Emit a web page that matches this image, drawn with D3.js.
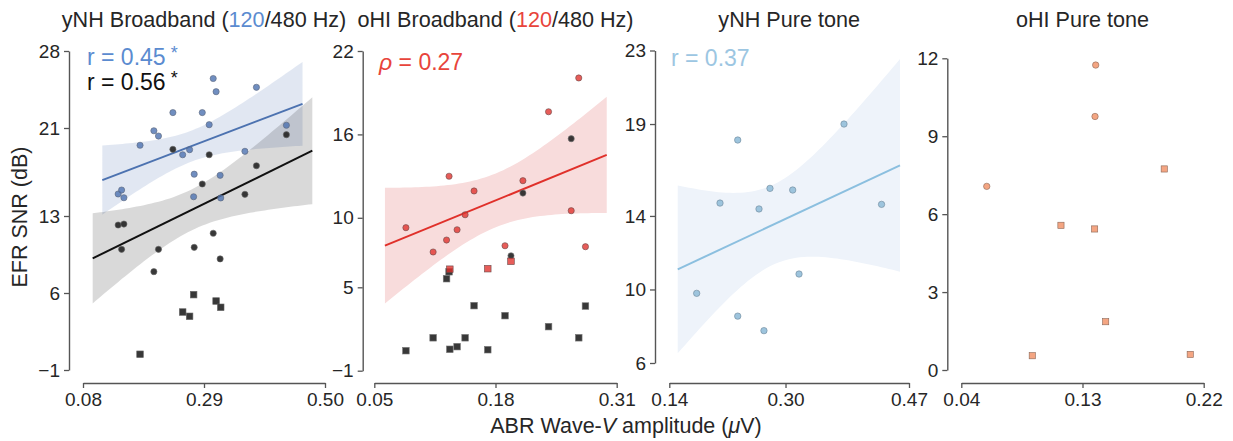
<!DOCTYPE html>
<html><head><meta charset="utf-8">
<script src="https://cdn.jsdelivr.net/npm/d3@7"></script>
<style>
body{margin:0;background:#fff}
svg{display:block}
text{font-family:"Liberation Sans",Arial,sans-serif;fill:#262626}
</style>
</head><body>
<svg id="c" width="1233" height="441"></svg>
<script>
// ================= DATA =================
// Panel 1: yNH broadband — ABR wave-V amplitude (µV) per subject, EFR SNR (dB) at 120 Hz and 480 Hz
const ynhBbAmp      = [0.141,0.147,0.151,0.179,0.203,0.211,0.236,0.253,0.265,0.272,0.273,0.287,0.299,0.306,0.311,0.318,0.319,0.361,0.381,0.433];
const ynhBb120      = [15.0,15.36,14.66,19.43,20.75,20.27,22.4,18.57,19.03,14.75,16.8,22.4,21.3,25.5,24.3,16.7,14.64,18.88,24.7,21.25];
const ynhBb480      = [12.18,9.97,12.27,0.43,7.94,9.97,19.06,4.27,3.88,5.85,10.15,15.91,18.57,11.43,5.27,9.1,4.7,14.97,17.57,20.39];
const ynhBb480Floor = [0,0,0,1,0,0,0,1,1,1,0,0,0,0,1,0,1,0,0,0];   // 1 = square marker (excluded from fit)

// Panel 2: oHI broadband
const ohiBbAmp      = [0.0839,0.1131,0.1275,0.1302,0.1310,0.1388,0.1474,0.1570,0.1717,0.1902,0.1966,0.2094,0.2369,0.2612,0.2693,0.2765];
const ohiBb120      = [9.29,7.54,8.4,12.99,6.3,9.14,10.22,11.93,6.34,7.99,6.87,12.67,17.63,10.51,20.06,7.92];
const ohiBb120Floor = [0,0,0,0,1,0,0,0,1,0,1,0,0,0,0,0];
const ohiBb480      = [0.44,1.37,5.62,6.12,0.54,0.73,1.37,3.68,0.51,2.96,7.27,11.78,2.17,15.69,1.37,3.65];
const ohiBb480Floor = [1,1,1,1,1,1,1,1,1,1,0,0,1,0,1,1];

// Panel 3: yNH pure tone
const ynhPtAmp = [0.1777,0.2098,0.2342,0.2342,0.2635,0.2703,0.2786,0.3099,0.3186,0.3805,0.4322];
const ynhPtSnr = [9.79,14.7,18.13,8.55,14.38,7.76,15.5,15.41,10.84,19.0,14.63];

// Panel 4: oHI pure tone
const ohiPtAmp   = [0.0589,0.0927,0.114,0.1393,0.1398,0.139,0.1472,0.1907,0.21];
const ohiPtSnr   = [7.07,0.55,5.57,9.76,11.74,5.43,1.86,7.74,0.6];
const ohiPtFloor = [0,1,1,0,0,1,1,1,1];

// Regression line x-extents (µV)
const ynhBbFit120Range = [0.1135,0.461];
const ynhBbFit480Range = [0.0968,0.478];
const ohiBbFitRange    = [0.0614,0.2993];
const ynhPtFitRange    = [0.1516,0.4576];

// Axis domains and tick labels
const p1XDomain=[0.08,0.50], p1YDomain=[-1,28], p1XTicks=[0.08,0.29,0.50], p1YTicks=[-1,6,13,21,28];
const p2XDomain=[0.05,0.31], p2YDomain=[-1,22], p2XTicks=[0.05,0.18,0.31], p2YTicks=[-1,5,10,16,22];
const p3XDomain=[0.14,0.47], p3YDomain=[6,23],  p3XTicks=[0.14,0.30,0.47], p3YTicks=[6,10,14,19,23];
const p4XDomain=[0.04,0.22], p4YDomain=[0,12],  p4XTicks=[0.04,0.13,0.22], p4YTicks=[0,3,6,9,12];

// Texts
const titles = ["yNH Broadband (","oHI Broadband (","yNH Pure tone","oHI Pure tone"];
const xLabel = "ABR Wave-";
const yLabel = "EFR SNR (dB)";

// ================= LAYOUT / STYLE =================
const svg = d3.select("#c");
const layout = [
  {x0:83,    x1:325,    yTop:51,   yBot:370,   spineX:69,    xd:p1XDomain, yd:p1YDomain, xt:p1XTicks, yt:p1YTicks},
  {x0:374.3, x1:616.7,  yTop:51,   yBot:370.7, spineX:362.7, xd:p2XDomain, yd:p2YDomain, xt:p2XTicks, yt:p2YTicks},
  {x0:669.3, x1:909,    yTop:50.5, yBot:363,   spineX:655,   xd:p3XDomain, yd:p3YDomain, xt:p3XTicks, yt:p3YTicks},
  {x0:961.3, x1:1203.7, yTop:58.3, yBot:370,   spineX:947.3, xd:p4XDomain, yd:p4YDomain, xt:p4XTicks, yt:p4YTicks},
];
const xAxisY = 383;
const spineColor = "#555";

const C = {
  blue:"#4c72b0", blueTxt:"#5b8bd0",
  black:"#111",
  red:"#e0302a", redTxt:"#e8443b", redBand:"#f8dcdc",
  lblue:"#8bbfdf", lblueTxt:"#9cc6e2", lbluePt:"#9dc4dd", lblueBand:"#eef3fa",
  orange:"#f4a582"
};

function fitLine(xs, ys){
  const n = xs.length, mx = d3.mean(xs), my = d3.mean(ys);
  let sxx=0, sxy=0;
  xs.forEach((x,i)=>{sxx+=(x-mx)*(x-mx); sxy+=(x-mx)*(ys[i]-my);});
  const b = sxy/sxx, a = my - b*mx;
  let ss=0; xs.forEach((x,i)=>{const r=ys[i]-(a+b*x); ss+=r*r;});
  const s = Math.sqrt(ss/(n-2));
  return {n,mx,sxx,a,b,s};
}
function bandPts(f, range){
  const N=60, out=[];
  for(let i=0;i<=N;i++){
    const x = range[0]+(range[1]-range[0])*i/N;
    const yh = f.a+f.b*x;
    const se = f.s*Math.sqrt(1/f.n + (x-f.mx)*(x-f.mx)/f.sxx);
    out.push({x, lo:yh-1.96*se, hi:yh+1.96*se, y:yh});
  }
  return out;
}

const panels = layout.map(L=>{
  const x = d3.scaleLinear().domain(L.xd).range([L.x0,L.x1]);
  const y = d3.scaleLinear().domain(L.yd).range([L.yBot,L.yTop]);
  const g = svg.append("g");
  const ya = g.append("g").attr("transform",`translate(${L.spineX},0)`)
    .call(d3.axisLeft(y).tickValues(L.yt).tickFormat(d3.format("d")).tickSize(5).tickSizeOuter(0).tickPadding(4));
  const xa = g.append("g").attr("transform",`translate(0,${xAxisY})`)
    .call(d3.axisBottom(x).tickValues(L.xt).tickFormat(d3.format(".2f")).tickSize(5).tickSizeOuter(0).tickPadding(5));
  [ya,xa].forEach(a=>{
    a.select(".domain").attr("stroke",spineColor).attr("stroke-width",1.4);
    a.selectAll(".tick line").attr("stroke",spineColor).attr("stroke-width",1.3);
    a.selectAll(".tick text").attr("font-size",19).attr("fill","#262626")
      .style("font-family",'"Liberation Sans",Arial,sans-serif');
  });
  return {x,y,g,L};
});

function drawFit(P, xs, ys, range, lineColor, bandColor, bandOpacity){
  const f = fitLine(xs, ys);
  const pts = bandPts(f, range);
  P.g.append("path").datum(pts)
    .attr("d", d3.area().x(d=>P.x(d.x)).y0(d=>P.y(d.lo)).y1(d=>P.y(d.hi)))
    .attr("fill", bandColor).attr("fill-opacity", bandOpacity).attr("stroke","none");
  return {f, pts, lineColor, P};
}
function drawLine(o){
  o.P.g.append("path").datum([o.pts[0], o.pts[o.pts.length-1]])
    .attr("d", d3.line().x(d=>o.P.x(d.x)).y(d=>o.P.y(d.y)))
    .attr("stroke", o.lineColor).attr("stroke-width",2).attr("fill","none");
}
function drawPoints(P, xs, ys, floor, fill, opacity, stroke, r, side){
  const data = xs.map((v,i)=>({x:v,y:ys[i],sq:floor?floor[i]:0}));
  P.g.selectAll(null).data(data.filter(d=>!d.sq)).enter().append("circle")
    .attr("cx",d=>P.x(d.x)).attr("cy",d=>P.y(d.y)).attr("r",r)
    .attr("fill",fill).attr("fill-opacity",opacity).attr("stroke",stroke).attr("stroke-width",0.6);
  P.g.selectAll(null).data(data.filter(d=>d.sq)).enter().append("rect")
    .attr("x",d=>P.x(d.x)-side/2).attr("y",d=>P.y(d.y)-side/2).attr("width",side).attr("height",side)
    .attr("fill",fill).attr("fill-opacity",opacity).attr("stroke",stroke).attr("stroke-width",0.6);
}
const sel = (arr, flags, keep)=>arr.filter((_,i)=>flags[i]===keep);

// ----- Panel 1 -----
{
  const P = panels[0];
  const fb = drawFit(P, ynhBbAmp, ynhBb120, ynhBbFit120Range, C.blue, C.blue, 0.17);
  const fk = drawFit(P, sel(ynhBbAmp,ynhBb480Floor,0), sel(ynhBb480,ynhBb480Floor,0), ynhBbFit480Range, C.black, "#000", 0.15);
  drawLine(fb); drawLine(fk);
  drawPoints(P, ynhBbAmp, ynhBb480, ynhBb480Floor, "#222", 0.9, "#666", 3.1, 6.6);
  drawPoints(P, ynhBbAmp, ynhBb120, null, C.blue, 0.8, "#5a6478", 3.1, 6.6);
}
// ----- Panel 2 -----
{
  const P = panels[1];
  const fr = drawFit(P, sel(ohiBbAmp,ohiBb120Floor,0), sel(ohiBb120,ohiBb120Floor,0), ohiBbFitRange, C.red, C.redBand, 1);
  drawLine(fr);
  drawPoints(P, ohiBbAmp, ohiBb480, ohiBb480Floor, "#222", 0.9, "#777", 3.1, 6.6);
  drawPoints(P, ohiBbAmp, ohiBb120, ohiBb120Floor, C.red, 0.78, "#6a4a4a", 3.1, 6.6);
}
// ----- Panel 3 -----
{
  const P = panels[2];
  const fl = drawFit(P, ynhPtAmp, ynhPtSnr, ynhPtFitRange, C.lblue, C.lblueBand, 1);
  drawLine(fl);
  drawPoints(P, ynhPtAmp, ynhPtSnr, null, C.lbluePt, 1, "#6d8699", 3.2, 6.4);
}
// ----- Panel 4 -----
{
  const P = panels[3];
  drawPoints(P, ohiPtAmp, ohiPtSnr, ohiPtFloor, C.orange, 1, "#8a6656", 3.2, 6.2);
}

// ----- Titles -----
const tColors = [C.blueTxt, C.redTxt];
panels.forEach((P,i)=>{
  const cx = (P.L.x0+P.L.x1)/2;
  const t = svg.append("text").attr("x",cx).attr("y",27).attr("text-anchor","middle").attr("font-size",21.6);
  t.append("tspan").text(titles[i]);
  if(i<2){
    t.append("tspan").attr("fill",tColors[i]).text("120");
    t.append("tspan").text("/480 Hz)");
  }
});

// ----- Correlation annotations -----
function annot(x,y,color,parts){
  const t = svg.append("text").attr("x",x).attr("y",y).attr("font-size",23).attr("fill",color);
  parts.forEach(p=>{
    const s = t.append("tspan").text(p.t).attr("fill",color);
    if(p.it) s.attr("font-style","italic");
    if(p.sup) s.attr("font-size",18).attr("dy",-6).attr("dx",5).attr("font-weight",300);
  });
}
annot(87,64.5,C.blueTxt,[{t:"r = 0.45"},{t:"*",sup:true}]);
annot(87,89.5,"#111",[{t:"r = 0.56"},{t:"*",sup:true}]);
annot(379,70,C.redTxt,[{t:"ρ",it:true},{t:" = 0.27"}]);
annot(671,66,C.lblueTxt,[{t:"r = 0.37"}]);

// ----- Axis labels -----
const xl = svg.append("text").attr("x",626).attr("y",433).attr("text-anchor","middle").attr("font-size",21.5);
xl.append("tspan").text(xLabel);
xl.append("tspan").attr("font-style","italic").text("V");
xl.append("tspan").text(" amplitude (");
xl.append("tspan").attr("font-style","italic").text("μ");
xl.append("tspan").text("V)");

svg.append("text").attr("transform","translate(27,217) rotate(-90)").attr("text-anchor","middle")
  .attr("font-size",21.5).text(yLabel);
</script>
</body></html>
